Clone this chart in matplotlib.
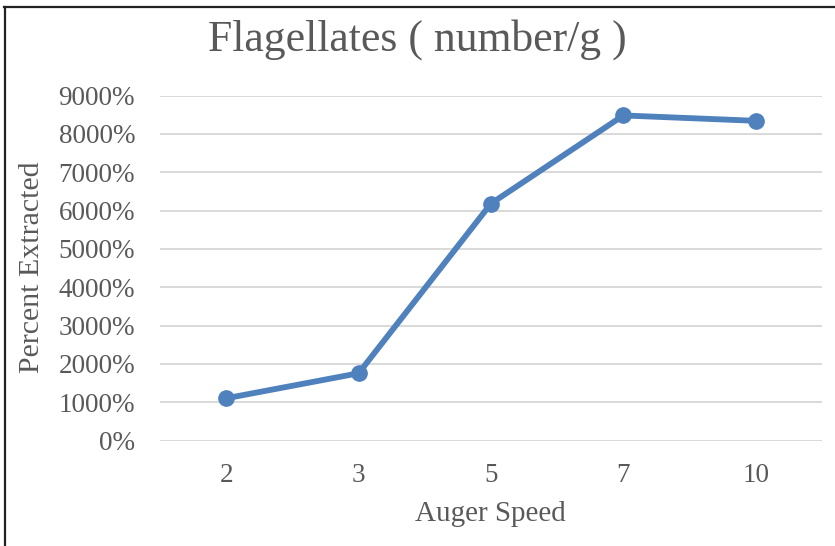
import matplotlib
matplotlib.use("Agg")
import matplotlib.pyplot as plt
from matplotlib.lines import Line2D
from matplotlib.ticker import FuncFormatter

categories = ["2", "3", "5", "7", "10"]
values = [1106, 1758, 6183, 8480, 8340]
yticks = [0, 1000, 2000, 3000, 4000, 5000, 6000, 7000, 8000, 9000]
title = "Flagellates ( number/g )"
xlabel = "Auger Speed"
ylabel = "Percent Extracted"

W, H = 835, 546
fig = plt.figure(figsize=(W / 100, H / 100), dpi=100)
font = "Liberation Serif"
tc = "#595959"

left, right = 160 / W, 822 / W
y0_px, y9_px = 440.7, 95.5
ax = fig.add_axes([left, 1 - y0_px / H, right - left, (y0_px - y9_px) / H])

x = list(range(len(categories)))
ax.plot(x, values, color="#4F81BD", lw=4.2, marker="o", ms=11,
        solid_capstyle="round", zorder=3, clip_on=False)

ax.set_xlim(-0.5, len(categories) - 0.5)
ax.set_ylim(0, 9000)
ax.set_yticks(yticks)
ax.yaxis.set_major_formatter(FuncFormatter(lambda v, p: f"{int(v)}%"))
ax.set_xticks(x)
ax.set_xticklabels(categories)
ax.grid(axis="y", color="#D9D9D9", lw=1.4)
ax.set_axisbelow(True)
for s in ax.spines.values():
    s.set_visible(False)
ax.tick_params(length=0, labelsize=19.5, labelcolor=tc)
ax.tick_params(axis="y", pad=18)
ax.tick_params(axis="x", pad=16)
for lab in ax.get_xticklabels() + ax.get_yticklabels():
    lab.set_fontfamily(font)

fig.text(417 / W, 1 - 40 / H, title, ha="center", va="center",
         fontsize=31.5, color=tc, family=font)
fig.text(490 / W, 1 - 514 / H, xlabel, ha="center", va="center",
         fontsize=21, color=tc, family=font)
fig.text(32 / W, 1 - 267 / H, ylabel, ha="center", va="center",
         rotation=90, fontsize=21.5, color=tc, family=font)

# frame lines (top and left)
fig.add_artist(Line2D([4 / W, 1], [1 - 7 / H, 1 - 7 / H], color="#222222", lw=1.6))
fig.add_artist(Line2D([5 / W, 5 / W], [0, 1 - 7 / H], color="#222222", lw=1.6))

fig.savefig("out.png", dpi=100)
